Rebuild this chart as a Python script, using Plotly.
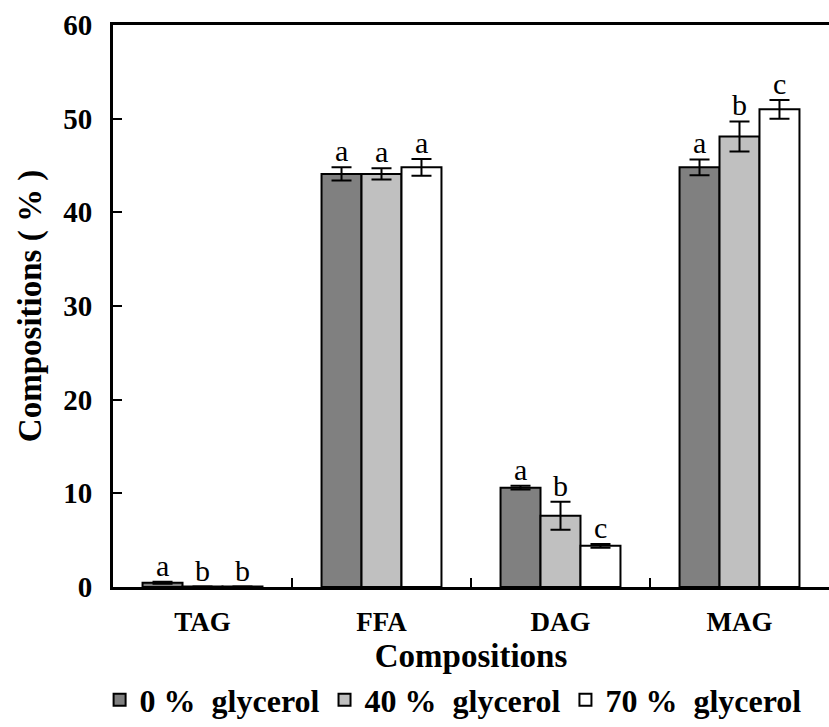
import plotly.graph_objects as go

categories = ["TAG", "FFA", "DAG", "MAG"]
series_names = ["0 %  glycerol", "40 %  glycerol", "70 %  glycerol"]
values_0 = [0.45, 44.1, 10.6, 44.8]
values_40 = [0.05, 44.1, 7.6, 48.1]
values_70 = [0.05, 44.8, 4.4, 51.0]
err_0 = [0.1, 0.7, 0.2, 0.85]
err_40 = [0.0, 0.6, 1.5, 1.6]
err_70 = [0.0, 0.9, 0.2, 1.0]
letters_0 = ["a", "a", "a", "a"]
letters_40 = ["b", "a", "b", "b"]
letters_70 = ["b", "a", "c", "c"]
y_ticks = [0, 10, 20, 30, 40, 50, 60]

colors = ["#808080", "#C0C0C0", "#FFFFFF"]
FONT = "Liberation Serif"

fig = go.Figure()
all_vals = [values_0, values_40, values_70]
all_err = [err_0, err_40, err_70]
all_letters = [letters_0, letters_40, letters_70]
for name, vals, errs, col in zip(series_names, all_vals, all_err, colors):
    fig.add_trace(go.Bar(
        x=categories, y=vals, name=name,
        marker=dict(color=col, line=dict(color="black", width=2)),
        error_y=dict(type="data", array=errs, visible=True, color="black",
                     thickness=2, width=10),
    ))

shifts = [-40, 0, 40]
for vals, errs, lets, sh in zip(all_vals, all_err, all_letters, shifts):
    for c, v, e, l in zip(categories, vals, errs, lets):
        fig.add_annotation(x=c, y=v + e, text=l, showarrow=False, xshift=sh,
                           yanchor="bottom", yshift=-2,
                           font=dict(family=FONT, size=30, color="black"))

fig.update_layout(
    width=829, height=727,
    margin=dict(l=113, r=0, t=25, b=140, autoexpand=False),
    paper_bgcolor="white", plot_bgcolor="white",
    barmode="group", bargap=0.33, bargroupgap=0,
    font=dict(family=FONT, color="black"),
    showlegend=True,
    legend=dict(orientation="h", x=0.475, xanchor="center", y=-0.152, yanchor="top",
                font=dict(family=FONT, size=32, color="black", weight="bold"),
                itemwidth=30, tracegroupgap=0),
)
fig.update_xaxes(
    showline=True, linecolor="black", linewidth=3, mirror=True,
    ticks="outside", ticklen=9, tickcolor="rgba(0,0,0,0)",
    tickfont=dict(family=FONT, size=27, color="black", weight="bold"),
    title=dict(text="Compositions", standoff=8,
               font=dict(family=FONT, size=33, color="black", weight="bold")),
    showgrid=False,
)
fig.update_yaxes(
    range=[0, 60], tickvals=y_ticks, showline=True, linecolor="black", linewidth=3,
    ticks="inside", ticklen=9, tickwidth=2, tickcolor="black",
    ticklabelstandoff=12,
    tickfont=dict(family=FONT, size=29, color="black", weight="bold"),
    title=dict(text="Compositions ( % )", standoff=12,
               font=dict(family=FONT, size=33, color="black", weight="bold")),
    showgrid=False, zeroline=False,
)
# category separators on the x axis
for xb in [0.25, 0.5, 0.75]:
    fig.add_shape(type="line", xref="paper", yref="paper", x0=xb, x1=xb,
                  y0=0, y1=0.016, line=dict(color="black", width=2))

fig.write_html("out.html")
